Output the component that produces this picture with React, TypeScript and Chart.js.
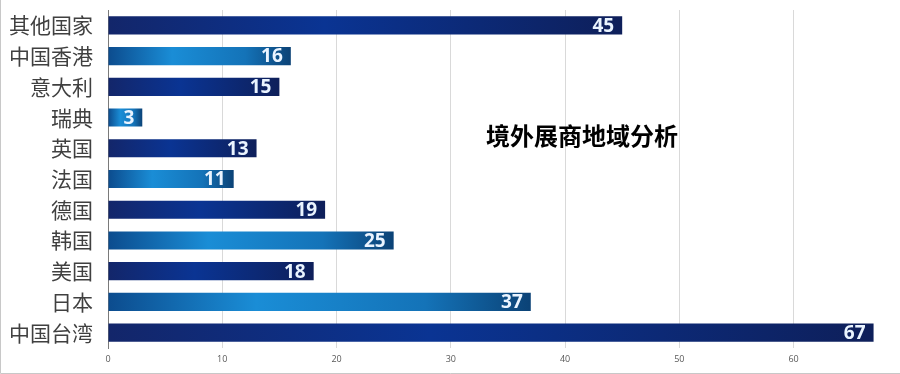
import React, { useEffect, useRef } from "react";
import { Chart, registerables } from "chart.js";

Chart.register(...registerables);

const categories = ["其他国家", "中国香港", "意大利", "瑞典", "英国", "法国", "德国", "韩国", "美国", "日本", "中国台湾"];
const values = [45, 16, 15, 3, 13, 11, 19, 25, 18, 37, 67];
const chartTitle = "境外展商地域分析";
const axisMax = 68;
const axisStep = 10;

const darkStops: [number, string][] = [
  [0, "#13266a"],
  [0.42, "#0a3493"],
  [1, "#0e1f5a"],
];
const lightStops: [number, string][] = [
  [0, "#0c4c8e"],
  [0.35, "#1a8dd6"],
  [0.75, "#1473b8"],
  [1, "#0b4276"],
];

function barFill(c: any) {
  const chart = c.chart;
  const i = c.dataIndex ?? 0;
  const xs = chart.scales && chart.scales.x;
  const stops = i % 2 === 0 ? darkStops : lightStops;
  if (!xs || !chart.ctx) return stops[1][1];
  const x0 = xs.getPixelForValue(0);
  const x1 = xs.getPixelForValue(values[i]);
  if (!isFinite(x0) || !isFinite(x1) || x1 <= x0) return stops[1][1];
  const g = chart.ctx.createLinearGradient(x0, 0, x1, 0);
  stops.forEach(([o, col]) => g.addColorStop(o, col));
  return g;
}

const gradientPlugin = {
  id: "barGradient",
  beforeDatasetsDraw(chart: any) {
    const ctx = chart.ctx;
    const meta = chart.getDatasetMeta(0);
    meta.data.forEach((bar: any, i: number) => {
      const g = ctx.createLinearGradient(bar.base, 0, bar.x, 0);
      const stops = i % 2 === 0 ? darkStops : lightStops;
      stops.forEach(([o, c]) => g.addColorStop(o, c));
      bar.options = Object.assign({}, bar.options, { backgroundColor: g });
    });
  },
};

const labelPlugin = {
  id: "valueLabels",
  afterDatasetsDraw(chart: any) {
    const ctx = chart.ctx;
    const meta = chart.getDatasetMeta(0);
    ctx.save();
    ctx.font = "bold 19px 'Open Sans', 'DejaVu Sans', sans-serif";
    ctx.fillStyle = "#eaf4ff";
    ctx.textAlign = "right";
    ctx.textBaseline = "middle";
    meta.data.forEach((bar: any, i: number) => {
      ctx.fillText(String(values[i]), bar.x - 8, bar.y + 1);
    });
    ctx.font = "bold 24px 'Noto Sans CJK SC', sans-serif";
    ctx.fillStyle = "#000";
    ctx.textAlign = "center";
    ctx.fillText(chartTitle, 582, 136);
    ctx.restore();
  },
  afterDraw(chart: any) {
    const ctx = chart.ctx;
    ctx.save();
    ctx.strokeStyle = "#c8c8c8";
    ctx.lineWidth = 1;
    ctx.beginPath();
    ctx.moveTo(0.5, 0);
    ctx.lineTo(0.5, 373.5);
    ctx.lineTo(900, 373.5);
    ctx.stroke();
    ctx.restore();
  },
};

export default function App() {
  const ref = useRef<HTMLCanvasElement>(null);
  useEffect(() => {
    if (!ref.current) return;
    const chart = new Chart(ref.current, {
      type: "bar",
      data: {
        labels: categories,
        datasets: [
          {
            data: values,
            backgroundColor: barFill,
            borderWidth: 0,
            barPercentage: 0.59,
            categoryPercentage: 1,
          },
        ],
      },
      options: {
        indexAxis: "y",
        animation: false,
        responsive: false,
        maintainAspectRatio: false,
        layout: { padding: { top: 10, right: 15, left: 0, bottom: 0 } },
        plugins: { legend: { display: false }, tooltip: { enabled: false }, title: { display: false } },
        scales: {
          x: {
            min: 0,
            max: axisMax,
            afterBuildTicks: (scale: any) => {
              scale.ticks = scale.ticks.filter((t: any) => t.value % axisStep === 0);
            },
            afterFit: (scale: any) => {
              scale.height = 26;
              scale.paddingLeft = 0;
              scale.paddingRight = 0;
            },
            ticks: { stepSize: axisStep, color: "#595959", font: { size: 9, family: "'Open Sans', sans-serif" }, padding: 6 },
            grid: { color: "#d9d9d9", drawTicks: false },
            border: { display: false },
          },
          y: {
            afterFit: (scale: any) => {
              scale.width = 108;
              scale.paddingTop = 0;
              scale.paddingBottom = 0;
            },
            ticks: { color: "#404040", font: { size: 21, family: "'Noto Sans CJK SC', sans-serif" }, padding: 15 },
            grid: { display: false, drawTicks: false },
            border: { display: true, color: "#7a7a7a", width: 1 },
          },
        },
      },
      plugins: [gradientPlugin, labelPlugin],
    });
    return () => chart.destroy();
  }, []);
  return (
    <div style={{ position: "fixed", left: 0, top: 0, width: 900, height: 374, background: "#fff" }}>
      <canvas ref={ref} width={900} height={374} style={{ display: "block" }} />
    </div>
  );
}
